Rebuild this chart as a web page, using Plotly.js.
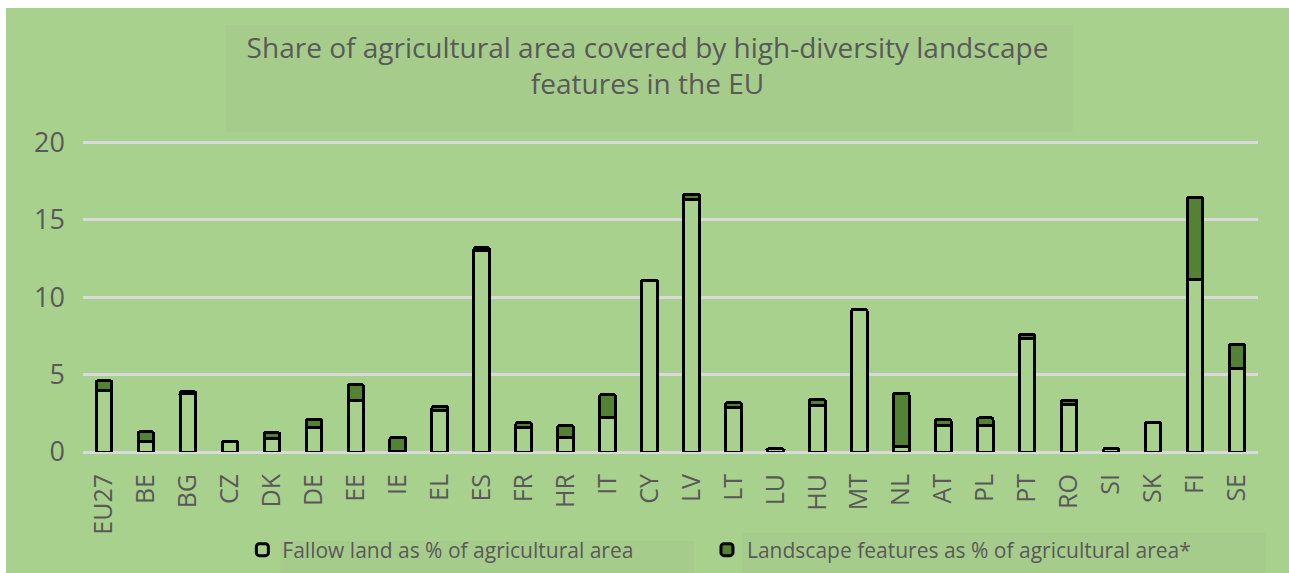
<!DOCTYPE html>
<html>
<head>
<meta charset="utf-8">
<script src="https://cdn.plot.ly/plotly-3.0.1.min.js"></script>
<style>
html,body{margin:0;padding:0;background:#ffffff;}
#chart{position:absolute;left:6px;top:8px;width:1283px;height:565px;}
</style>
</head>
<body>
<div id="chart"></div>
<script>
const categories = ['EU27','BE','BG','CZ','DK','DE','EE','IE','EL','ES','FR','HR','IT','CY','LV','LT','LU','HU','MT','NL','AT','PL','PT','RO','SI','SK','FI','SE'];
const fallowLand = [4.0, 0.7, 3.8, 0.7, 0.85, 1.6, 3.35, 0.05, 2.7, 13.0, 1.6, 0.95, 2.2, 11.1, 16.3, 2.9, 0.2, 3.0, 9.2, 0.35, 1.7, 1.7, 7.3, 3.05, 0.2, 1.9, 11.15, 5.4];
const landscapeFeatures = [0.6, 0.6, 0.1, 0, 0.4, 0.5, 1.0, 0.9, 0.25, 0.2, 0.3, 0.75, 1.5, 0, 0.35, 0.3, 0.02, 0.4, 0, 3.45, 0.4, 0.5, 0.3, 0.3, 0, 0, 5.3, 1.55];
const yTicks = [0, 5, 10, 15, 20];
const seriesNames = ['Fallow land as % of agricultural area', 'Landscape features as % of agricultural area*'];

const bg = '#A9D18E';
const textColor = '#595959';
const font = 'Open Sans, sans-serif';

const L = 76.5, R = 30.5, T = 131, B = 121, W = 1283, H = 565;
const PW = W - L - R, PH = H - T - B;
const px = v => (v - L) / PW;
const py = v => (H - B - v) / PH;

const traces = [
  {
    type: 'bar', x: categories, y: fallowLand, name: seriesNames[0],
    marker: {color: bg, line: {color: '#000000', width: 3}, cornerradius: 2},
    hoverinfo: 'x+y', legend: 'legend'
  },
  {
    type: 'bar', x: categories, y: landscapeFeatures, name: seriesNames[1],
    marker: {color: '#548235', line: {color: '#000000', width: 3}, cornerradius: 2},
    hoverinfo: 'x+y', legend: 'legend2'
  }
];

const legendCommon = {
  orientation: 'h', xanchor: 'left', y: py(542), yanchor: 'middle',
  itemwidth: 30, bgcolor: 'rgba(0,0,0,0)',
  font: {family: font, size: 21, color: textColor}
};

const layout = {
  width: W, height: H,
  paper_bgcolor: bg, plot_bgcolor: bg,
  margin: {l: L, r: R, t: T, b: B, pad: 0, autoexpand: false},
  barmode: 'stack',
  bargap: 0.63,
  showlegend: true,
  title: {
    text: 'Share of agricultural area covered by high-diversity landscape<br>features in the EU',
    x: 0.5, xref: 'container', xanchor: 'center',
    y: 0.912, yref: 'container', yanchor: 'middle',
    font: {family: font, size: 28, color: textColor}
  },
  xaxis: {
    type: 'category',
    tickangle: -90,
    tickfont: {family: font, size: 25, color: textColor},
    ticks: '', ticklabelstandoff: 16,
    showgrid: false, zeroline: false, showline: false,
    fixedrange: true
  },
  yaxis: {
    range: [0, 20.2],
    tickvals: yTicks,
    ticktext: yTicks.map(String),
    tickfont: {family: font, size: 27, color: textColor},
    ticks: '', ticklabelstandoff: 17,
    showgrid: true, gridcolor: '#D9D9D9', gridwidth: 3,
    zeroline: true, zerolinecolor: '#D9D9D9', zerolinewidth: 3,
    showline: false, fixedrange: true
  },
  legend: Object.assign({}, legendCommon, {x: px(236)}),
  legend2: Object.assign({}, legendCommon, {x: px(701)}),
  shapes: [
    {type: 'rect', xref: 'paper', yref: 'paper', x0: px(219), x1: px(1067), y0: py(124), y1: py(17),
     fillcolor: '#A6CC8B', line: {width: 0}, layer: 'below'},
    {type: 'rect', xref: 'paper', yref: 'paper', x0: px(274), x1: px(688), y0: py(565), y1: py(533),
     fillcolor: '#A6CC8B', line: {width: 0}, layer: 'below'},
    {type: 'rect', xref: 'paper', yref: 'paper', x0: px(736), x1: px(1260), y0: py(565), y1: py(525),
     fillcolor: '#A6CC8B', line: {width: 0}, layer: 'below'}
  ]
};

Plotly.newPlot('chart', traces, layout, {displayModeBar: false, staticPlot: true});
</script>
</body>
</html>
